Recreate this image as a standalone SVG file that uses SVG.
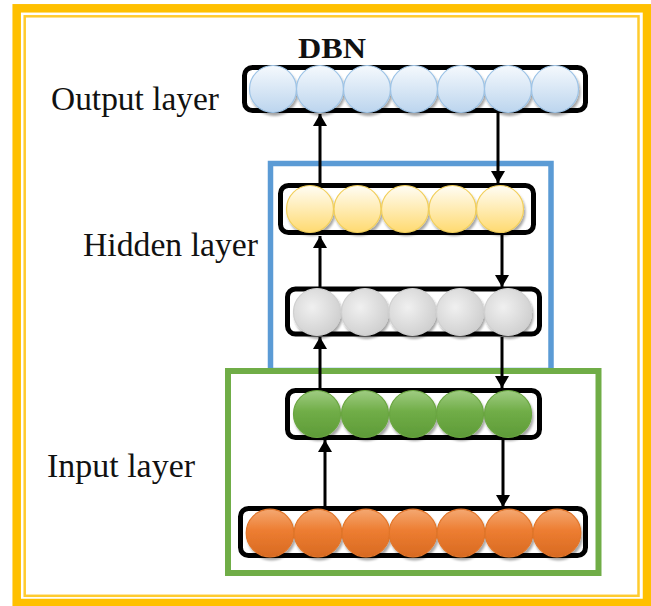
<svg xmlns="http://www.w3.org/2000/svg" width="651" height="606" viewBox="0 0 651 606">
<style>
  .lbl { font-family: "Liberation Serif", "Times New Roman", serif; font-size: 33px; fill: #111; }
  .title { font-family: "Liberation Serif", "Times New Roman", serif; font-size: 30px; font-weight: bold; fill: #111; }
  .layer { fill: #fff; stroke: #000; stroke-width: 5; }
  .conn { stroke: #000; stroke-width: 3; fill: none; }
  .blue c, .cb { fill: url(#gBlue); stroke: #9DC3E6; stroke-width: 1.2; filter: url(#sh); }
  .cy { fill: url(#gYellow); stroke: #F2CF5B; stroke-width: 1.2; filter: url(#sh); }
  .cg { fill: url(#gGray); stroke: #D0D0D0; stroke-width: 1.2; filter: url(#sh); }
  .cgr { fill: url(#gGreen); stroke: #6AA640; stroke-width: 1.2; filter: url(#sh); }
  .co { fill: url(#gOrange); stroke: #E27529; stroke-width: 1.2; filter: url(#sh); }
</style>
<defs>
  <filter id="sh" x="-30%" y="-30%" width="160%" height="170%">
    <feDropShadow dx="1.5" dy="3" stdDeviation="1.2" flood-color="#000" flood-opacity="0.35"/>
  </filter>
  <linearGradient id="gBlue" x1="0" y1="0" x2="0" y2="1">
    <stop offset="0" stop-color="#F5F9FD"/>
    <stop offset="1" stop-color="#BCD5EE"/>
  </linearGradient>
  <linearGradient id="gYellow" x1="0" y1="0" x2="0" y2="1">
    <stop offset="0" stop-color="#FFFDF5"/>
    <stop offset="1" stop-color="#FFDA70"/>
  </linearGradient>
  <radialGradient id="gGray" cx="0.4" cy="0.4" r="0.65">
    <stop offset="0" stop-color="#F0F0F0"/>
    <stop offset="1" stop-color="#CFCFCF"/>
  </radialGradient>
  <linearGradient id="gGreen" x1="0" y1="0" x2="0" y2="1">
    <stop offset="0" stop-color="#9FCC82"/>
    <stop offset="0.45" stop-color="#70AD47"/>
    <stop offset="1" stop-color="#5E9B38"/>
  </linearGradient>
  <linearGradient id="gOrange" x1="0" y1="0" x2="0" y2="1">
    <stop offset="0" stop-color="#F4A872"/>
    <stop offset="0.45" stop-color="#ED7D31"/>
    <stop offset="1" stop-color="#D86A22"/>
  </linearGradient>
  <marker id="ah" viewBox="0 0 12 14" refX="12" refY="7" markerWidth="12" markerHeight="14" markerUnits="userSpaceOnUse" orient="auto">
    <path d="M0,0 L12,7 L0,14 z" fill="#000"/>
  </marker>
</defs>

<rect width="651" height="606" fill="#fff"/>

<g id="frame">
  <rect x="16.7" y="8.3" width="630.3" height="594.7" fill="none" stroke="#FFC000" stroke-width="8.5"/>
  <rect x="24.7" y="16.3" width="613.8" height="579.5" fill="none" stroke="#FFCB2E" stroke-width="2.5"/>
</g>

<g id="hidden-box">
  <rect x="270.5" y="163.5" width="280.5" height="207" fill="none" stroke="#5B9BD5" stroke-width="5.5"/>
</g>
<g id="input-box">
  <rect x="228" y="371" width="370.5" height="202" fill="none" stroke="#70AD47" stroke-width="6"/>
</g>

<g id="output-layer">
  <rect class="layer" x="244.5" y="67.5" width="341" height="43" rx="8"/>
  <circle class="cb" cx="273" cy="89" r="23.5"/>
  <circle class="cb" cx="320" cy="89" r="23.5"/>
  <circle class="cb" cx="367" cy="89" r="23.5"/>
  <circle class="cb" cx="414" cy="89" r="23.5"/>
  <circle class="cb" cx="461" cy="89" r="23.5"/>
  <circle class="cb" cx="508" cy="89" r="23.5"/>
  <circle class="cb" cx="555" cy="89" r="23.5"/>
</g>

<g id="hidden-layer-1">
  <rect class="layer" x="280.5" y="185.5" width="253" height="47" rx="8"/>
  <circle class="cy" cx="310" cy="209" r="23.5"/>
  <circle class="cy" cx="357.5" cy="209" r="23.5"/>
  <circle class="cy" cx="405" cy="209" r="23.5"/>
  <circle class="cy" cx="452.5" cy="209" r="23.5"/>
  <circle class="cy" cx="500" cy="209" r="23.5"/>
</g>

<g id="hidden-layer-2">
  <rect class="layer" x="287.5" y="289" width="252" height="45" rx="8"/>
  <circle class="cg" cx="317" cy="312" r="23.5"/>
  <circle class="cg" cx="365" cy="312" r="23.5"/>
  <circle class="cg" cx="412.5" cy="312" r="23.5"/>
  <circle class="cg" cx="460" cy="312" r="23.5"/>
  <circle class="cg" cx="508" cy="312" r="23.5"/>
</g>

<g id="input-layer-1">
  <rect class="layer" x="287.5" y="390.5" width="252" height="47" rx="8"/>
  <circle class="cgr" cx="317" cy="414" r="23.5"/>
  <circle class="cgr" cx="365" cy="414" r="23.5"/>
  <circle class="cgr" cx="413" cy="414" r="23.5"/>
  <circle class="cgr" cx="460" cy="414" r="23.5"/>
  <circle class="cgr" cx="508" cy="414" r="23.5"/>
</g>

<g id="input-layer-0">
  <rect class="layer" x="240.5" y="508.5" width="345" height="47" rx="8"/>
  <circle class="co" cx="270" cy="533" r="23.8"/>
  <circle class="co" cx="318" cy="533" r="23.8"/>
  <circle class="co" cx="366" cy="533" r="23.8"/>
  <circle class="co" cx="413" cy="533" r="23.8"/>
  <circle class="co" cx="461" cy="533" r="23.8"/>
  <circle class="co" cx="509" cy="533" r="23.8"/>
  <circle class="co" cx="557" cy="533" r="23.8"/>
</g>

<g id="connectors">
  <line class="conn" x1="320" y1="183" x2="320" y2="114" marker-end="url(#ah)"/>
  <line class="conn" x1="498" y1="113" x2="498" y2="183" marker-end="url(#ah)"/>
  <line class="conn" x1="320" y1="287" x2="320" y2="236" marker-end="url(#ah)"/>
  <line class="conn" x1="502" y1="235" x2="502" y2="287" marker-end="url(#ah)"/>
  <line class="conn" x1="320" y1="388" x2="320" y2="337" marker-end="url(#ah)"/>
  <line class="conn" x1="502" y1="337" x2="502" y2="388" marker-end="url(#ah)"/>
  <line class="conn" x1="325" y1="506" x2="325" y2="440" marker-end="url(#ah)"/>
  <line class="conn" x1="503" y1="440" x2="503" y2="507" marker-end="url(#ah)"/>
</g>

<g id="labels">
  <text class="title" x="298" y="58" textLength="68" lengthAdjust="spacingAndGlyphs">DBN</text>
  <text class="lbl" x="51" y="110" textLength="168" lengthAdjust="spacingAndGlyphs">Output layer</text>
  <text class="lbl" x="83" y="256" textLength="175" lengthAdjust="spacingAndGlyphs">Hidden layer</text>
  <text class="lbl" x="47" y="477" textLength="148" lengthAdjust="spacingAndGlyphs">Input layer</text>
</g>
</svg>
